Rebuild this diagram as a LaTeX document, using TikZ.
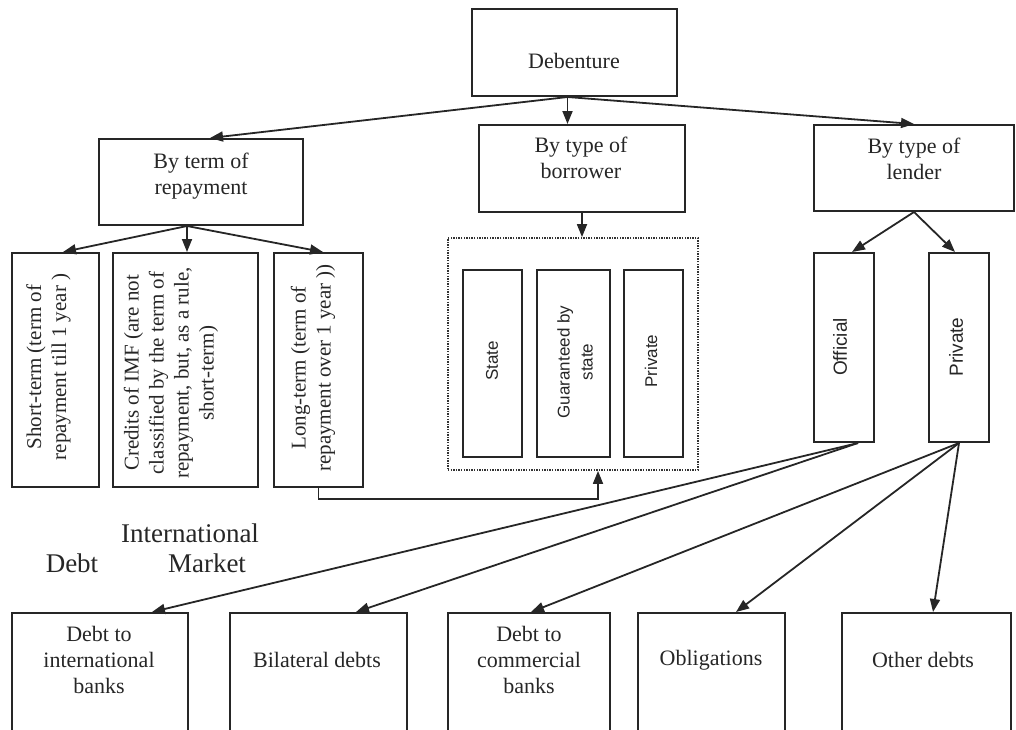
\documentclass[tikz,border=0pt]{standalone}
\usepackage{fontspec}
\setmainfont{Liberation Serif}
\newfontfamily\labelsans{Liberation Sans}
\usetikzlibrary{arrows.meta}
\begin{document}
\begin{tikzpicture}[x=1pt,y=-1pt,
  box/.style={draw=black!85, line width=2pt, inner sep=0pt},
  grpbox/.style={draw=black!80, line width=1.8pt, dash pattern=on 1.4pt off 1.2pt, inner sep=0pt},
  txt/.style={inner sep=0pt, align=center, font=\fontsize{22}{26}\selectfont, text=black!85},
  vtxt/.style={inner sep=0pt, align=center, rotate=90, font=\fontsize{21}{25}\selectfont, text=black!85},
  stxt/.style={inner sep=0pt, align=center, rotate=90, font=\labelsans\fontsize{17}{23}\selectfont, text=black!85},
  bigtxt/.style={inner sep=0pt, font=\fontsize{27}{30}\selectfont, text=black!85},
  conn/.style={draw=black!85, line width=1.8pt, -{Triangle[length=13pt,width=10pt]}},
]
\clip (0,0) rectangle (1016,729);

% ---- top level ----
\node[box, minimum width=205pt, minimum height=87pt] (deb) at (574.5,52.5) {};
\node[txt] (debt) at (574,61) {Debenture};

% ---- classification criteria ----
\node[box, minimum width=204pt, minimum height=86pt] (term) at (201,182) {};
\node[txt] (termt) at (201,176) {By term of\\repayment};
\node[box, minimum width=206pt, minimum height=87pt] (bor) at (582,168.5) {};
\node[txt] (bort) at (581,157.5) {By type of\\borrower};
\node[box, minimum width=200pt, minimum height=86pt] (len) at (914,168) {};
\node[txt] (lent) at (914,158.5) {By type of\\lender};

\coordinate (ds) at ([xshift=-7pt]deb.south);
\draw[conn] (ds) -- ([xshift=9pt]term.north);
\draw[conn] (ds) -- (ds |- bor.north);
\draw[conn] (ds) -- (len.north);

% ---- by term of repayment ----
\node[box, minimum width=87pt, minimum height=234pt] (short) at (55.5,370) {};
\node[vtxt] (shortt) at (48.5,367) {Short-term (term of\\repayment till 1 year )};
\node[box, minimum width=145pt, minimum height=234pt] (imf) at (185.5,370) {};
\node[vtxt] (imft) at (171,373) {Credits of IMF (are not\\classified by the term of\\repayment, but, as a rule,\\short-term)};
\node[box, minimum width=89pt, minimum height=234pt] (long) at (318.5,370) {};
\node[vtxt] (longt) at (313,368) {Long-term (term of\\repayment over 1 year ))};

\coordinate (ts) at ([xshift=-14pt]term.south);
\draw[conn] (ts) -- ([xshift=7.5pt]short.north);
\draw[conn] (ts) -- (ts |- imf.north);
\draw[conn] (ts) -- ([xshift=4.5pt]long.north);

% ---- by type of borrower ----
\node[grpbox, minimum width=250pt, minimum height=232pt] (grp) at (573,354) {};
\node[box, minimum width=59pt, minimum height=187pt] (state) at (492.5,363.5) {};
\node[stxt] (statet) at (492,361) {State};
\node[box, minimum width=73pt, minimum height=187pt] (guar) at (573.5,363.5) {};
\node[stxt] (guart) at (575,362) {Guaranteed by\\state};
\node[box, minimum width=59pt, minimum height=187pt] (bpriv) at (653.5,363.5) {};
\node[stxt] (bprivt) at (651,361) {Private};

\draw[conn] (bor.south) -- (bor.south |- grp.north);
\draw[conn] (long.south) -- ++(0,11) -| ([xshift=25pt]grp.south);

% ---- by type of lender ----
\node[box, minimum width=60pt, minimum height=189pt] (off) at (844,347.5) {};
\node[stxt, font=\labelsans\fontsize{19}{23}\selectfont] (offt) at (840,347) {Official};
\node[box, minimum width=60pt, minimum height=189pt] (lpriv) at (959,347.5) {};
\node[stxt, font=\labelsans\fontsize{19}{23}\selectfont] (lprivt) at (956,347) {Private};

\draw[conn] (len.south) -- ([xshift=8pt]off.north);
\draw[conn] (len.south) -- ([xshift=-4pt]lpriv.north);

% ---- loose caption ----
\node[bigtxt] (capa) at (190,533) {International};
\node[bigtxt] (capb) at (72,563) {Debt};
\node[bigtxt] (capc) at (207,563) {Market};

% ---- kinds of debt ----
\node[box, minimum width=176pt, minimum height=127pt] (dtib) at (100,676.5) {};
\node[txt] (dtibt) at (99,660) {Debt to\\international\\banks};
\node[box, minimum width=177pt, minimum height=127pt] (bil) at (318.5,676.5) {};
\node[txt] (bilt) at (317,660) {Bilateral debts};
\node[box, minimum width=162pt, minimum height=127pt] (com) at (529,676.5) {};
\node[txt] (comt) at (529,660) {Debt to\\commercial\\banks};
\node[box, minimum width=147pt, minimum height=127pt] (obl) at (711.5,676.5) {};
\node[txt] (oblt) at (711,660) {Obligations};
\node[box, minimum width=169pt, minimum height=127pt] (oth) at (926.5,676.5) {};
\node[txt] (otht) at (923,660) {Other debts};

\coordinate (os) at ([xshift=14pt]off.south);
\draw[conn] (os) -- ([xshift=52pt]dtib.north);
\draw[conn] (os) -- ([xshift=37.5pt]bil.north);
\draw[conn] (lpriv.south) -- ([xshift=2pt]com.north);
\draw[conn] (lpriv.south) -- ([xshift=24.5pt]obl.north);
\draw[conn] (lpriv.south) -- ([xshift=6.5pt]oth.north);
\end{tikzpicture}
\end{document}
